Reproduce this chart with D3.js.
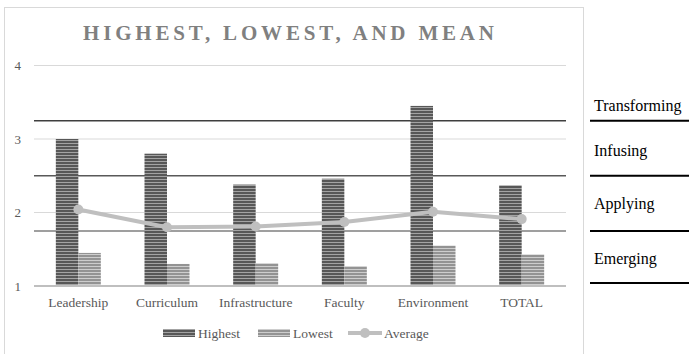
<!DOCTYPE html>
<html><head><meta charset="utf-8">
<script src="https://cdn.jsdelivr.net/npm/d3@7"></script>
<style>body{margin:0;background:#fff}svg{display:block}</style>
</head><body>
<svg id="c" width="689" height="354"></svg>
<script>
const categories = ["Leadership","Curriculum","Infrastructure","Faculty","Environment","TOTAL"];
const highest = [3.00, 2.80, 2.38, 2.46, 3.45, 2.37];
const lowest  = [1.45, 1.30, 1.31, 1.27, 1.55, 1.43];
const average = [2.04, 1.80, 1.81, 1.87, 2.01, 1.91];
const yTicks = [1, 2, 3, 4];
const thresholds = [3.25, 2.5, 1.75];
const thresholdColors = ["#3f3f3f", "#595959", "#7f7f7f"];
const levelLabels = ["Transforming", "Infusing", "Applying", "Emerging"];
const levelLines = [3.25, 2.5, 1.75, 1.04];
const title = "HIGHEST, LOWEST, AND MEAN";
const seriesNames = ["Highest", "Lowest", "Average"];

const svg = d3.select("#c");
const serif = "'Liberation Serif','Times New Roman',serif";

// frame
svg.append("rect").attr("x",4.5).attr("y",7.5).attr("width",579).attr("height",360)
  .attr("fill","#fff").attr("stroke","#d9d9d9");

const y = d3.scaleLinear().domain([1,4]).range([286,65.5]);
const x = d3.scaleBand().domain(categories).range([34,566]).padding(0);
const barW = 22.5;

// patterns
const defs = svg.append("defs");
function pat(id, base, light){
  const p = defs.append("pattern").attr("id",id).attr("patternUnits","userSpaceOnUse")
    .attr("width",4).attr("height",3);
  p.append("rect").attr("width",4).attr("height",3).attr("fill",base);
  p.append("rect").attr("y",2).attr("width",4).attr("height",1).attr("fill",light);
}
pat("pH","#575757","#a3a3a3");
pat("pL","#939393","#cdcdcd");

// title
svg.append("text").attr("x",83).attr("y",40).attr("textLength",411).attr("lengthAdjust","spacing")
  .attr("font-family",serif).attr("font-weight","bold").attr("font-size",21)
  .attr("fill","#808080").text(title);

// gridlines
svg.append("g").selectAll("line").data(yTicks.filter(d=>d>1)).join("line")
  .attr("x1",34).attr("x2",566).attr("y1",d=>y(d)).attr("y2",d=>y(d))
  .attr("stroke","#d9d9d9").attr("stroke-width",1);

// y labels
svg.append("g").selectAll("text").data(yTicks).join("text")
  .attr("x",21).attr("y",d=>y(d)+4.5).attr("text-anchor","end")
  .attr("font-family",serif).attr("font-size",13).attr("fill","#595959").text(d=>d);

// threshold lines
svg.append("g").selectAll("line").data(thresholds).join("line")
  .attr("x1",34).attr("x2",566).attr("y1",d=>y(d)).attr("y2",d=>y(d))
  .attr("stroke",(d,i)=>thresholdColors[i]).attr("stroke-width",1.5);

// bars
const bars = svg.append("g");
bars.selectAll(".h").data(highest).join("rect")
  .attr("x",(d,i)=>x(categories[i])+x.bandwidth()/2-barW).attr("width",barW)
  .attr("y",d=>y(d)).attr("height",d=>y(1)-y(d)).attr("fill","url(#pH)");
bars.selectAll(".l").data(lowest).join("rect").attr("class","l")
  .attr("x",(d,i)=>x(categories[i])+x.bandwidth()/2).attr("width",barW)
  .attr("y",d=>y(d)).attr("height",d=>y(1)-y(d)).attr("fill","url(#pL)");

// baseline
svg.append("line").attr("x1",34).attr("x2",566).attr("y1",y(1)).attr("y2",y(1))
  .attr("stroke","#bfbfbf").attr("stroke-width",2);

// average line
const line = d3.line().x((d,i)=>x(categories[i])+x.bandwidth()/2).y(d=>y(d));
svg.append("path").datum(average).attr("d",line).attr("fill","none")
  .attr("stroke","#bfbfbf").attr("stroke-width",4).attr("stroke-linejoin","round");
svg.append("g").selectAll("circle").data(average).join("circle")
  .attr("cx",(d,i)=>x(categories[i])+x.bandwidth()/2).attr("cy",d=>y(d)).attr("r",5)
  .attr("fill","#bfbfbf");

// x labels
svg.append("g").selectAll("text").data(categories).join("text")
  .attr("x",d=>x(d)+x.bandwidth()/2).attr("y",307).attr("text-anchor","middle")
  .attr("font-family",serif).attr("font-size",13.5).attr("fill","#595959").text(d=>d);

// legend
const lg = svg.append("g").attr("font-family",serif).attr("font-size",13.5).attr("fill","#595959");
lg.append("rect").attr("x",163).attr("y",329).attr("width",32).attr("height",8).attr("fill","url(#pH)");
lg.append("text").attr("x",198).attr("y",338).text(seriesNames[0]);
lg.append("rect").attr("x",258).attr("y",329).attr("width",32).attr("height",8).attr("fill","url(#pL)");
lg.append("text").attr("x",293).attr("y",338).text(seriesNames[1]);
lg.append("line").attr("x1",348).attr("x2",382).attr("y1",333).attr("y2",333)
  .attr("stroke","#bfbfbf").attr("stroke-width",4);
lg.append("circle").attr("cx",365).attr("cy",333).attr("r",5).attr("fill","#bfbfbf");
lg.append("text").attr("x",384).attr("y",338).text(seriesNames[2]);

// right-side level labels
const rs = svg.append("g");
rs.selectAll("line").data(levelLines).join("line")
  .attr("x1",590).attr("x2",689).attr("y1",d=>y(d)).attr("y2",d=>y(d))
  .attr("stroke","#000").attr("stroke-width",2);
const labelOffsets = [-9.5, -20, -22, -19];
rs.selectAll("text").data(levelLabels).join("text")
  .attr("x",594).attr("y",(d,i)=>y(levelLines[i])+labelOffsets[i])
  .attr("font-family",serif).attr("font-size",16).attr("fill","#000").text(d=>d);
</script>
</body></html>
